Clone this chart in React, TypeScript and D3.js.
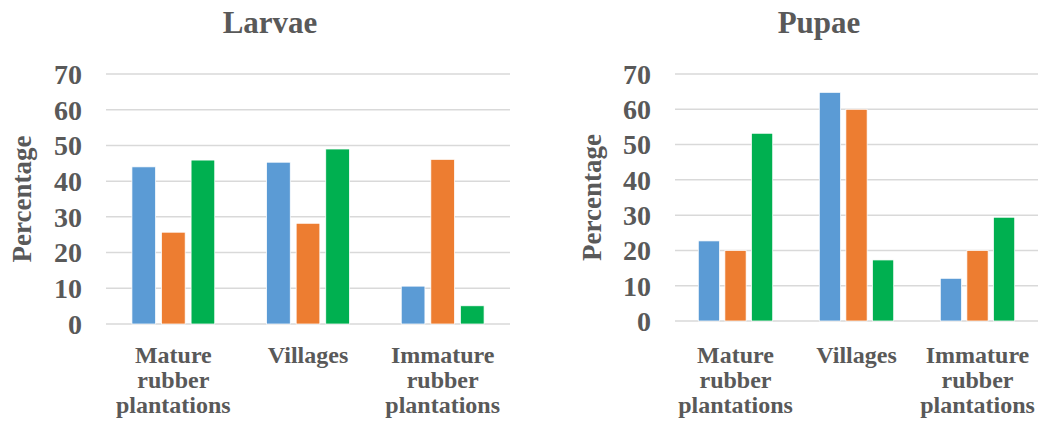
import React from 'react';
import { scaleBand, scaleLinear } from 'd3';

// categories shared by both panels
const categories = ['Mature rubber plantations', 'Villages', 'Immature rubber plantations'];
const categoryLines = [['Mature', 'rubber', 'plantations'], ['Villages'], ['Immature', 'rubber', 'plantations']];
const seriesKeys = ['s1', 's2', 's3'];
const seriesColors = ['#5B9BD5', '#ED7D31', '#00B050'];
const yTicks = [0, 10, 20, 30, 40, 50, 60, 70];

// values, one array per series (by category)
const larvaeBlue = [44, 45.3, 10.6];
const larvaeOrange = [25.7, 28.2, 46.1];
const larvaeGreen = [45.9, 49, 5.1];

const pupaeBlue = [22.7, 64.8, 12.1];
const pupaeOrange = [20, 60, 20];
const pupaeGreen = [53.2, 17.3, 29.4];

const textColor = '#595959';
const font = '"Liberation Serif", "Times New Roman", serif';

interface PanelProps {
  title: string;
  series: number[][];
  left: number;
  right: number;
  top: number;
  bottom: number;
  titleX: number;
  tickX: number;
  axisTitleX: number;
}

const Panel: React.FC<PanelProps> = ({ title, series, left, right, top, bottom, titleX, tickX, axisTitleX }) => {
  const y = scaleLinear().domain([0, 70]).range([bottom, top]);
  const x0 = scaleBand<string>().domain(categories).range([left, right]).paddingInner(0.385).paddingOuter(0.1925);
  const x1 = scaleBand<string>().domain(seriesKeys).range([0, x0.bandwidth()]).paddingInner(0.2);

  return (
    <g>
      <text x={titleX} y={33} textAnchor="middle" fontSize={31} fontWeight="bold" fill={textColor}>{title}</text>

      {yTicks.map(t => (
        <g key={t}>
          <line x1={left} x2={right} y1={y(t)} y2={y(t)} stroke="#D9D9D9" strokeWidth={1.5} />
          <text x={tickX} y={y(t)} dy="0.35em" textAnchor="end" fontSize={28} fontWeight="bold" fill={textColor}>{t}</text>
        </g>
      ))}

      <text
        transform={`translate(${axisTitleX}, ${(top + bottom) / 2}) rotate(-90)`}
        textAnchor="middle"
        fontSize={27}
        fontWeight="bold"
        fill={textColor}
      >Percentage</text>

      {categories.map((c, ci) => (
        <g key={c} transform={`translate(${x0(c)}, 0)`}>
          {seriesKeys.map((k, si) => {
            const v = series[si][ci];
            return (
              <rect
                key={k}
                x={x1(k)}
                y={y(v)}
                width={x1.bandwidth()}
                height={y(0) - y(v)}
                fill={seriesColors[si]}
                stroke="#fff"
                strokeWidth={0.75}
              />
            );
          })}
        </g>
      ))}

      {categoryLines.map((lines, ci) => {
        const cx = (x0(categories[ci]) ?? 0) + x0.bandwidth() / 2;
        return (
          <text key={ci} x={cx} y={363} textAnchor="middle" fontSize={24} fontWeight="bold" fill={textColor}>
            {lines.map((l, li) => (
              <tspan key={li} x={cx} dy={li === 0 ? 0 : 25}>{l}</tspan>
            ))}
          </text>
        );
      })}
    </g>
  );
};

const App: React.FC = () => {
  return (
    <div style={{ position: 'absolute', left: 0, top: 0, width: 1039, height: 421, background: '#fff' }}>
      <svg width={1039} height={421} style={{ display: 'block', fontFamily: font }}>
        <rect width={1039} height={421} fill="#fff" />
        <Panel
          title="Larvae"
          series={[larvaeBlue, larvaeOrange, larvaeGreen]}
          left={106}
          right={510}
          top={74}
          bottom={324}
          titleX={270}
          tickX={82}
          axisTitleX={31}
        />
        <Panel
          title="Pupae"
          series={[pupaeBlue, pupaeOrange, pupaeGreen]}
          left={675}
          right={1038}
          top={74}
          bottom={321}
          titleX={819}
          tickX={651}
          axisTitleX={601}
        />
      </svg>
    </div>
  );
};

export default App;
